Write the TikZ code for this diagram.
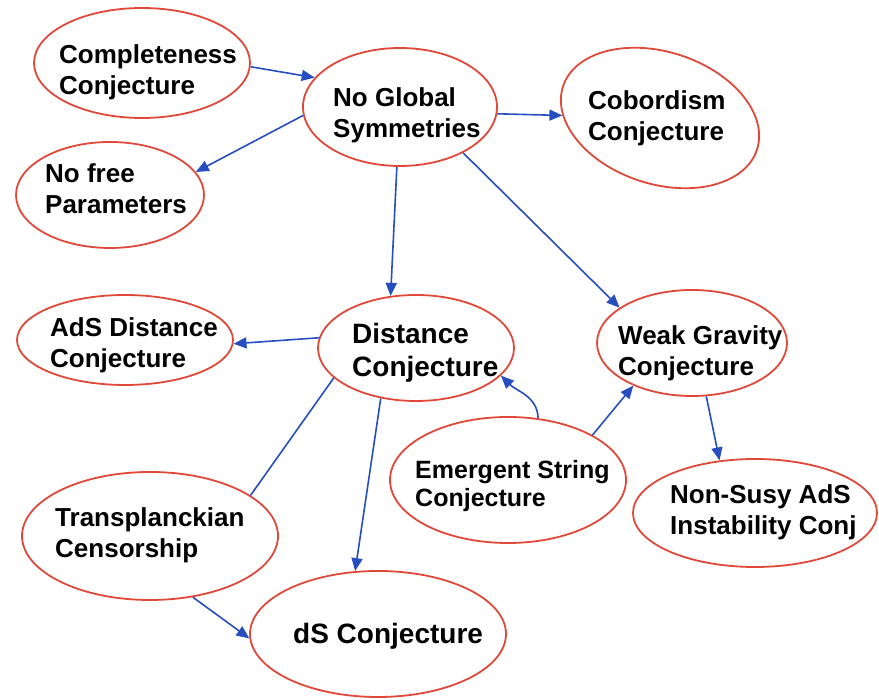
\documentclass[tikz,border=0pt]{standalone}
\usepackage{fontspec}
\setmainfont{Liberation Sans}
\usetikzlibrary{shapes.geometric,arrows.meta}
\definecolor{ered}{RGB}{224,72,58}
\definecolor{ablue}{RGB}{38,78,190}
\begin{document}
\begin{tikzpicture}[x=1pt,y=1pt,
  oval/.style={ellipse,draw=ered,line width=1.8pt,inner sep=0pt},
  lbl/.style={anchor=north west,inner sep=0pt,align=left,font=\bfseries\fontsize{26}{31.5}\selectfont},
  lblbig/.style={lbl,font=\bfseries\fontsize{28}{33}\selectfont},
  lblsmall/.style={lbl,font=\bfseries\fontsize{25}{28.5}\selectfont},
  link/.style={draw=ablue,line width=1.6pt,-{Triangle[length=13pt,width=11pt]}},
  plainlink/.style={draw=ablue,line width=1.6pt}]
\useasboundingbox (0,0) rectangle (879,700);
% ellipses
\node[oval,minimum width=216,minimum height=110] (comp) at (142,637) {};
\node[oval,minimum width=194,minimum height=118] (nog) at (400,593) {};
\node[oval,minimum width=204,minimum height=132,rotate=-18] (cob) at (660,582) {};
\node[oval,minimum width=188,minimum height=106] (nofree) at (110,505) {};
\node[oval,minimum width=216,minimum height=90] (ads) at (125,360) {};
\node[oval,minimum width=196,minimum height=106] (dist) at (416,352) {};
\node[oval,minimum width=190,minimum height=106] (wgc) at (692,357) {};
\node[oval,minimum width=236,minimum height=126] (emer) at (508,220) {};
\node[oval,minimum width=244,minimum height=108] (nonsusy) at (755,187) {};
\node[oval,minimum width=256,minimum height=128] (trans) at (150,164) {};
\node[oval,minimum width=256,minimum height=126] (ds) at (378,66) {};
% labels
\node[lbl] (compT) at (59,656) {Completeness\\Conjecture};
\node[lbl] (nogT) at (333,613) {No Global\\Symmetries};
\node[lbl] (cobT) at (588,610) {Cobordism\\Conjecture};
\node[lbl] (nofreeT) at (45,537) {No free\\Parameters};
\node[lbl] (adsT) at (50,383) {AdS Distance\\Conjecture};
\node[lblbig] (distT) at (352,377) {Distance\\Conjecture};
\node[lbl] (wgcT) at (618,375) {Weak Gravity\\Conjecture};
\node[lblsmall] (emerT) at (415,240) {Emergent String\\Conjecture};
\node[lbl] (nonsusyT) at (670,216) {Non-Susy AdS\\Instability Conj};
\node[lbl] (transT) at (55,193) {Transplanckian\\Censorship};
\node[lblbig] (dsT) at (293,77) {dS Conjecture};
% connectors
\draw[link] (comp.-2) -- (nog.161);
\draw[link] (nog.185) -- (nofree.15);
\draw[link] (nog.-4) -- (cob);
\draw[link] (nog.267) -- (dist.116);
\draw[link] (nog.-36) -- (wgc.154);
\draw[link] (dist.174) -- (ads.-2);
\draw[plainlink] (dist.200) -- (trans.22);
\draw[link] (dist.235) -- (ds.110);
\draw[link] (trans.-55) -- (ds.182);
\draw[link] (emer.64) to[out=92,in=-45] (dist.-18);
\draw[link] (emer.28) -- (wgc.216);
\draw[link] (wgc.-75) -- (nonsusy.124);
\end{tikzpicture}
\end{document}
